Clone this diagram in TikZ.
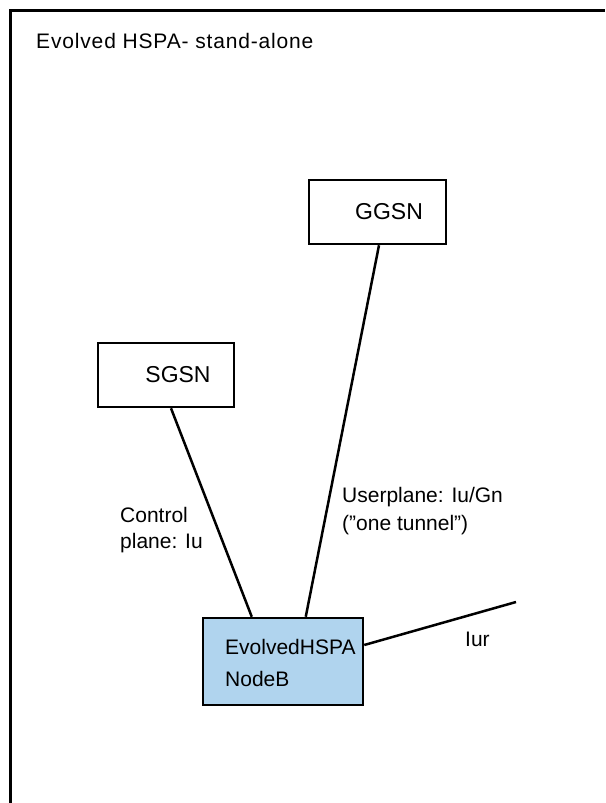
\documentclass[tikz,border=0pt]{standalone}
\usepackage{fontspec}
\setmainfont{Liberation Sans}
\usetikzlibrary{calc}
\definecolor{nodebblue}{RGB}{176,212,238}
\begin{document}
\begin{tikzpicture}[x=1pt,y=-1pt,
  box/.style={draw=black,line width=2.5pt,rectangle,inner sep=0pt},
  conn/.style={draw=black,line width=2.5pt},
  txt/.style={font=\fontsize{21}{25}\selectfont,inner sep=0pt,anchor=west},
  boxtxt/.style={font=\fontsize{23}{27}\selectfont,inner sep=0pt,anchor=center}]
\useasboundingbox (0,0) rectangle (605,803);
% frame
\draw[line width=3pt] (10,803) -- (10,10) -- (605,10);
\node[txt,font=\fontsize{21}{25}\selectfont\addfontfeature{LetterSpace=4}] (title) at (36,41) {Evolved HSPA- stand-alone};
% boxes
\node[box,minimum width=137pt,minimum height=64pt] (ggsn) at (377.5,212) {};
\node[boxtxt] (ggsnt) at (389,212) {GGSN};
\node[box,minimum width=136pt,minimum height=64pt] (sgsn) at (166,375) {};
\node[boxtxt] (sgsnt) at (178,375) {SGSN};
\node[box,fill=nodebblue,minimum width=160pt,minimum height=87pt] (nodeb) at (283,661.5) {};
\node[txt] (nodebt1) at (225,647) {EvolvedHSPA};
\node[txt] (nodebt2) at (225,679) {NodeB};
% connectors
\coordinate (iurend) at (516,602);
\draw[conn] ($(sgsn.south)+(5,0)$) -- ($(nodeb.north west)+(50,0)$);
\draw[conn] ($(ggsn.south)+(1.5,0)$) -- ($(nodeb.north west)+(104,0)$);
\draw[conn] ($(nodeb.east)+(0,-16.5)$) -- (iurend);
% labels
\node[txt] (cp1) at (120,515) {Control};
\node[txt] (cp2) at (120,543) {plane: Iu};
\node[txt] (up1) at (342,497) {Userplane: Iu/Gn};
\node[txt] (up2) at (342,525) {(”one tunnel”)};
\node[txt] (iur) at (465,639) {Iur};
\end{tikzpicture}
\end{document}
